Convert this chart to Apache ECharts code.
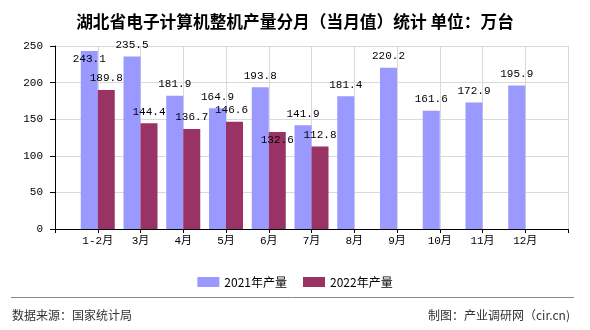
<!DOCTYPE html>
<html>
<head>
<meta charset="utf-8">
<script src="https://cdn.jsdelivr.net/npm/echarts@6/dist/echarts.min.js"></script>
<style>html,body{margin:0;padding:0;background:#fff}#c{width:590px;height:330px}</style>
</head>
<body>
<div id="c"></div>
<script>
var categories = ['1-2月','3月','4月','5月','6月','7月','8月','9月','10月','11月','12月'];
var prod2021 = [243.1, 235.5, 181.9, 164.9, 193.8, 141.9, 181.4, 220.2, 161.6, 172.9, 195.9];
var prod2022 = [189.8, 144.4, 136.7, 146.6, 132.6, 112.8];
var seriesNames = ['2021年产量', '2022年产量'];
var yTicks = [0, 50, 100, 150, 200, 250];

var mono = "'Liberation Mono','Noto Sans CJK SC',monospace";
var cjk = "'Noto Sans CJK SC','Noto Sans',sans-serif";

// label adjustments (styling only)
var labelOffsets2021 = {0: [0, 20]};
var labelOffsets2022 = {3: [-3, 0], 4: [0, 20]};

function build(vals, offs) {
  var out = ['-'];
  for (var i = 0; i < categories.length; i++) {
    if (i < vals.length) {
      var item = {value: vals[i]};
      if (offs[i]) item.label = {offset: offs[i]};
      out.push(item);
    } else out.push('-');
  }
  out.push('-');
  return out;
}
var axisCats = [''].concat(categories).concat(['']);

var chart = echarts.init(document.getElementById('c'), null, {renderer: 'canvas'});
chart.setOption({
  animation: false,
  title: {
    text: '湖北省电子计算机整机产量分月（当月值）统计 单位：万台',
    left: 'center', top: 8,
    textStyle: {fontSize: 16.7, fontWeight: 'bold', color: '#000', fontFamily: cjk}
  },
  legend: {
    data: seriesNames, top: 271, left: 'center',
    itemWidth: 22, itemHeight: 10, itemGap: 16, icon: 'rect',
    textStyle: {fontSize: 12, color: '#000', fontFamily: cjk}
  },
  grid: {left: 55, right: 22, top: 46, bottom: 101},
  xAxis: {
    type: 'category', data: axisCats, boundaryGap: false,
    axisLine: {lineStyle: {color: '#000'}},
    axisTick: {show: true, length: 4, lineStyle: {color: '#000'}},
    axisLabel: {color: '#000', fontSize: 11, fontFamily: mono, margin: 7, interval: 0},
    splitLine: {show: true, lineStyle: {color: '#d9d9d9'}}
  },
  yAxis: {
    type: 'value', min: yTicks[0], max: yTicks[yTicks.length - 1], interval: 50,
    axisLine: {show: true, lineStyle: {color: '#000'}},
    axisTick: {show: true, length: 5, lineStyle: {color: '#000'}},
    axisLabel: {color: '#000', fontSize: 11, fontFamily: mono, margin: 12},
    splitLine: {show: true, lineStyle: {color: '#d9d9d9'}}
  },
  series: [
    {
      name: seriesNames[0], type: 'bar', barWidth: 17, barGap: '0%',
      itemStyle: {color: '#9999FF'},
      label: {show: true, position: 'top', distance: 6, color: '#000', fontSize: 11, fontFamily: mono},
      data: build(prod2021, labelOffsets2021)
    },
    {
      name: seriesNames[1], type: 'bar', barWidth: 17, barGap: '0%',
      itemStyle: {color: '#993366'},
      label: {show: true, position: 'top', distance: 6, color: '#000', fontSize: 11, fontFamily: mono},
      data: build(prod2022, labelOffsets2022)
    }
  ],
  graphic: [
    {type: 'line', shape: {x1: 11, y1: 297.5, x2: 574, y2: 297.5}, style: {stroke: '#888', lineWidth: 1}},
    {type: 'text', left: 12, top: 309, style: {text: '数据来源：国家统计局', fill: '#333', fontSize: 12, fontFamily: cjk}},
    {type: 'text', right: 20, top: 309, style: {text: '制图：产业调研网（cir.cn)', fill: '#333', fontSize: 12, fontFamily: cjk}}
  ]
});
</script>
</body>
</html>
